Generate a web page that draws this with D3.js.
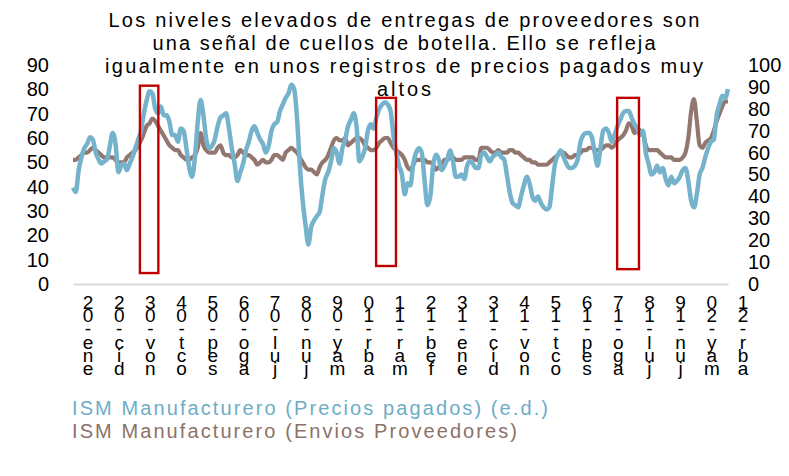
<!DOCTYPE html>
<html><head><meta charset="utf-8">
<script src="https://cdn.jsdelivr.net/npm/d3@7"></script>
<style>
body{margin:0;background:#fff}
svg{display:block}
text{font-family:"Liberation Sans",Arial,sans-serif}
</style>
</head><body>
<svg id="chart" width="789" height="476"></svg>
<script>
// ---------- DATA ----------
const monthNames = ["ene","feb","mar","abr","may","jun","jul","ago","sep","oct","nov","dic"];
const startYear = 2002;
const tickEvery = 11;

// ISM Manufacturero (Precios pagados) – right axis
const preciosPagados = [
  44,42,52,58,62,64,67,66,60,57,55,56,   // 2002
  57,63,69,64,51,54,55,52,55,58,62,66,   // 2003
  70,78,84,88,87,80,78,81,77,77,74,68,   // 2004
  68,65,71,70,62,53,49,58,74,84,77,66,   // 2005
  62,63,66,72,76,77,78,71,62,55,47,51,   // 2006
  55,61,65,70,72,69,66,64,60,63,70,73,   // 2007
  74,79,82,85,87,91,89,76,54,38,27,18,   // 2008
  26,29,31,33,41,48,51,56,62,60,55,62,   // 2009
  66,72,75,78,72,56,58,62,70,73,71,76,   // 2010
  80,82,83,82,79,68,60,54,50,41,46,45,   // 2011
  55,60,62,60,47,36,40,54,59,57,52,54,   // 2012
  57,61,56,49,49,50,48,54,56,55,53,53,   // 2013
  59,60,58,56,58,59,60,58,57,50,42,37,   // 2014
  36,35,40,45,49,46,40,38,40,37,35,34,   // 2015
  35,45,55,59,61,58,55,53,53,54,57,65,   // 2016
  68,69,69,67,60,54,62,70,71,69,65,68,   // 2017
  72,75,78,79,79,76,73,71,68,70,60,55,   // 2018
  50,51,54,51,53,48,45,49,46,47,49,52,   // 2019
  53,47,38,35,41,50,53,58,62,65,66,77,   // 2020
  82,86,85,89                            // 2021
];

// ISM Manufacturero (Envios Proveedores) – left axis
const enviosProveedores = [
  51,51,52,53,54,54,55,56,55,54,53,52,   // 2002
  52,52,52,51,50,50,50,52,53,54,55,57,   // 2003
  59,62,65,66,68,67,65,63,61,59,57,56,   // 2004
  55,55,53,52,51,51,52,53,56,62,57,55,   // 2005
  54,54,54,56,57,54,53,53,52,52,53,55,   // 2006
  54,53,53,52,51,49,50,51,50,50,51,53,   // 2007
  53,52,51,54,55,56,55,54,52,50,48,47,   // 2008
  47,46,45,48,50,51,53,56,59,60,59,59,   // 2009
  60,57,58,59,60,60,59,57,56,55,55,56,   // 2010
  58,59,60,60,58,56,55,54,53,51,48,47,   // 2011
  49,51,51,51,51,50,50,49,47,48,49,51,   // 2012
  51,52,52,51,51,51,52,52,52,52,51,51,   // 2013
  56,56,56,55,54,54,55,54,54,54,55,55,   // 2014
  54,54,53,52,51,51,50,50,49,49,49,49,   // 2015
  50,51,52,53,54,54,53,52,52,53,53,54,   // 2016
  55,55,56,56,55,55,55,56,57,57,56,57,   // 2017
  59,60,61,63,66,65,62,64,63,62,57,55,   // 2018
  55,55,55,54,53,52,52,52,51,51,51,52,   // 2019
  54,60,71,76,67,57,56,58,59,60,63,67,   // 2020
  70,73,75,75                            // 2021
];

const leftTicks  = [0,10,20,30,40,50,60,70,80,90];
const rightTicks = [0,10,20,30,40,50,60,70,80,90,100];

const titleLines = [
  "Los niveles elevados de entregas de proveedores son",
  "una señal de cuellos de botella. Ello se refleja",
  "igualmente en unos registros de precios pagados muy",
  "altos"
];
const legendLabels = [
  "ISM Manufacturero (Precios pagados) (e.d.)",
  "ISM Manufacturero (Envios Proveedores)"
];

// highlighted periods (category position range, left-axis value range)
const highlightBoxes = [
  {from: 23.6,  to: 30.1,  lo: 4.5, hi: 81.5},
  {from: 106.9, to: 113.9, lo: 7.4, hi: 76.5},
  {from: 191.9, to: 199.6, lo: 6.1, hi: 76.5}
];

// ---------- BUILD ----------
const categories = preciosPagados.map((_, i) =>
  monthNames[i % 12] + "-" + String((startYear + Math.floor(i / 12)) % 100).padStart(2, "0"));
const tickCats = categories.filter((_, i) => i % tickEvery === 0);

const svg = d3.select("#chart");
const blue = "#74b3cb", brown = "#927770";
const plotLeft = 73, plotRight = 728, plotBottom = 284, plotTop = 65;

const x = d3.scalePoint().domain(categories).range([plotLeft, plotRight]);
const xPos = d3.scaleLinear().domain([0, categories.length - 1]).range([plotLeft, plotRight]);
const yL = d3.scaleLinear().domain([0, 90]).range([plotBottom, plotTop]);
const yR = d3.scaleLinear().domain([0, 100]).range([plotBottom, plotTop]);

// Title
svg.append("g").selectAll("text").data(titleLines).join("text")
  .attr("x", 404).attr("y", (d, i) => 27 + i * 23)
  .attr("text-anchor", "middle").attr("font-size", 20).attr("fill", "#000")
  .attr("textLength", (d, i) => [591, 503, 598, 54][i]).attr("lengthAdjust", "spacing")
  .text(d => d);

// X axis baseline
const xAxis = svg.append("g").attr("transform", `translate(0,${plotBottom})`)
  .call(d3.axisBottom(x).tickValues([]).tickSizeOuter(0));
xAxis.select(".domain").attr("stroke", "#d9d9d9").attr("stroke-width", 2);

// stacked (vertical, upright) x labels, characters read bottom-up as in the reference
const labG = svg.append("g").attr("font-size", 19).attr("fill", "#000");
const step = 13.2;
tickCats.forEach(lab => {
  const txt = lab.split("").reverse().join("");
  const t = labG.append("text")
    .attr("x", x(lab) + 15).attr("y", 292)
    .style("writing-mode", "vertical-rl")
    .style("text-orientation", "upright")
    .text(txt);
  const bb = t.node().getBBox();
  const n = txt.length;
  const adv = bb.height / n;
  t.attr("letter-spacing", (step - adv).toFixed(2));
  const bb2 = t.node().getBBox();
  t.attr("y", 292 + (292 - bb2.y) * 0);
});

// Y axes
const styleAxis = g => {
  g.select(".domain").remove();
  g.selectAll("text").attr("font-size", 20).attr("fill", "#000")
    .attr("font-family", '"Liberation Sans",Arial,sans-serif');
};
svg.append("g").attr("transform", "translate(49,0)")
  .call(d3.axisLeft(yL).tickValues(leftTicks).tickSize(0).tickPadding(0))
  .call(styleAxis);
svg.append("g").attr("transform", "translate(748,0)")
  .call(d3.axisRight(yR).tickValues(rightTicks).tickSize(0).tickPadding(0))
  .call(styleAxis);

// Lines
const lineL = d3.line().x((d, i) => x(categories[i])).y(d => yL(d)).curve(d3.curveMonotoneX);
const lineR = d3.line().x((d, i) => x(categories[i])).y(d => yR(d)).curve(d3.curveMonotoneX);
svg.append("path").datum(enviosProveedores).attr("d", lineL)
  .attr("fill", "none").attr("stroke", brown).attr("stroke-width", 4.2).attr("stroke-linejoin", "round");
svg.append("path").datum(preciosPagados).attr("d", lineR)
  .attr("fill", "none").attr("stroke", blue).attr("stroke-width", 4.5).attr("stroke-linejoin", "round");

// highlight boxes
svg.append("g").selectAll("rect").data(highlightBoxes).join("rect")
  .attr("x", d => xPos(d.from)).attr("width", d => xPos(d.to) - xPos(d.from))
  .attr("y", d => yL(d.hi)).attr("height", d => yL(d.lo) - yL(d.hi))
  .attr("fill", "none").attr("stroke", "#c00000").attr("stroke-width", 2.4);

// Legend
svg.append("g").selectAll("text").data(legendLabels).join("text")
  .attr("x", 72).attr("y", (d, i) => 415 + i * 23)
  .attr("font-size", 20).attr("fill", (d, i) => i === 0 ? "#6eadc6" : "#8e7168")
  .attr("textLength", (d, i) => [476, 445][i]).attr("lengthAdjust", "spacing")
  .text(d => d);
</script>
</body></html>
